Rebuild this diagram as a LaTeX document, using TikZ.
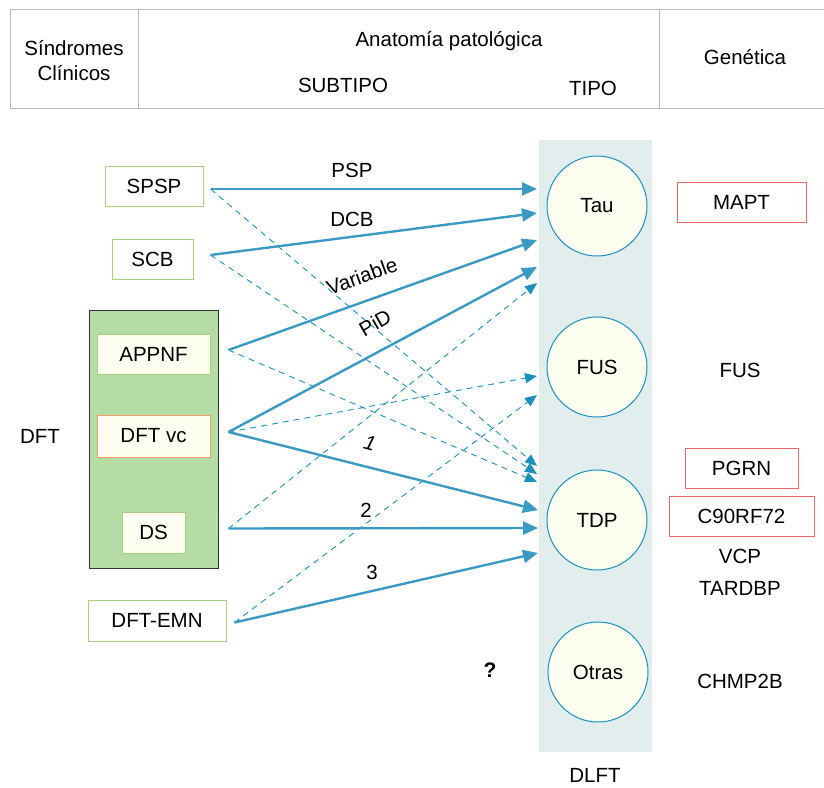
\documentclass[tikz,border=0pt]{standalone}
\usepackage{fontspec}
\setmainfont{Liberation Sans}
\usetikzlibrary{arrows.meta,calc}
\definecolor{gridgray}{HTML}{B8B8B8}
\definecolor{colbg}{HTML}{E2EEEE}
\definecolor{ivory}{HTML}{FDFDF0}
\definecolor{ringblue}{HTML}{1A90C0}
\definecolor{solidblue}{HTML}{3A9AC4}
\definecolor{leafgreen}{HTML}{A8D080}
\definecolor{groupgreen}{HTML}{B6DCA6}
\definecolor{genered}{HTML}{F06868}
\definecolor{vcorange}{HTML}{F0A060}
\tikzset{
  txt/.style={font=\fontsize{20.5}{25}\selectfont, inner sep=0pt},
  clinbox/.style={draw=leafgreen, line width=1pt, fill=white, minimum height=40pt, txt},
  innerbox/.style={draw=leafgreen, line width=1pt, fill=ivory, minimum height=40pt, txt},
  genebox/.style={draw=genered, line width=1pt, fill=white, minimum height=40pt, txt},
  typecircle/.style={circle, draw=ringblue, line width=1pt, fill=ivory, minimum size=100pt, txt},
  strong/.style={draw=solidblue, line width=2.4pt, -{Triangle[length=15pt,width=13pt]}},
  weak/.style={draw=ringblue, line width=0.9pt, dash pattern=on 6pt off 5pt, -{Triangle[length=12pt,width=10pt]}},
  lbl/.style={txt, fill=none}
}
\begin{document}
\begin{tikzpicture}[x=1pt,y=-1pt]
\useasboundingbox (0,0) rectangle (824,787);

% header table
\draw[gridgray, line width=1pt] (824,9) -- (10,9) -- (10,108) -- (824,108);
\draw[gridgray, line width=1pt] (138,9) -- (138,108);
\draw[gridgray, line width=1pt] (659,9) -- (659,108);
\node[txt, align=center] (hSind) at (74,61) {Síndromes\\Clínicos};
\node[txt] (hAnat) at (449,41) {Anatomía patológica};
\node[txt] (hSub) at (343,85) {SUBTIPO};
\node[txt] (hTipo) at (593,88) {TIPO};
\node[txt] (hGen) at (745,57) {Genética};

% pathology column
\fill[colbg] (539,140) rectangle (652,752);
\node[txt] (dlft) at (595,775) {DLFT};

% pathology types
\node[typecircle] (tau) at (597,206) {Tau};
\node[typecircle] (fus) at (597,367) {FUS};
\node[typecircle] (tdp) at (597,520) {TDP};
\node[typecircle] (otras) at (598,672) {Otras};

% genes
\node[genebox, minimum width=129pt] (mapt) at (741.5,202) {MAPT};
\node[txt] (gfus) at (740,370) {FUS};
\node[genebox, minimum width=113pt] (pgrn) at (741.5,468) {PGRN};
\node[genebox, minimum width=145pt] (c9) at (741.5,516) {C90RF72};
\node[txt] (vcp) at (740,556) {VCP};
\node[txt] (tardbp) at (740,588) {TARDBP};
\node[txt] (chmp) at (740,681) {CHMP2B};
\node[font=\fontsize{21}{24}\selectfont\bfseries, inner sep=0pt] (unk) at (490,670) {?};

% clinical syndromes
\node[txt] (dft) at (40,436) {DFT};
\draw[black!80, line width=1pt, fill=groupgreen] (89,310) rectangle (218,568);
\node[clinbox, minimum width=98pt] (spsp) at (154,186) {SPSP};
\node[clinbox, minimum width=81pt] (scb) at (152.5,259) {SCB};
\node[innerbox, minimum width=113pt] (appnf) at (153.5,354) {APPNF};
\node[innerbox, draw=vcorange, minimum width=113pt, minimum height=42pt] (dftvc) at (153.5,436) {DFT vc};
\node[innerbox, minimum width=63pt, minimum height=41pt] (ds) at (153.5,532.5) {DS};
\node[clinbox, minimum width=138pt, minimum height=41pt] (emn) at (157,620.5) {DFT-EMN};

% connector start points
\coordinate (sSpsp) at ($(spsp.east)+(7,3)$);
\coordinate (sScb) at ($(scb.east)+(17,-4)$);
\coordinate (sAppnf) at ($(appnf.east)+(18,-4)$);
\coordinate (sVc) at ($(dftvc.east)+(18,-4)$);
\coordinate (sDs) at ($(ds.east)+(43,-4)$);
\coordinate (sEmn) at ($(emn.east)+(8,2)$);

% connector end points, left of the circles
\coordinate (eTau1) at (537,189);
\coordinate (eTau2) at (537,213);
\coordinate (eTau3) at (537,240);
\coordinate (eTau4) at (537,267);
\coordinate (eTau5) at (537,283);
\coordinate (eFus1) at (537,376);
\coordinate (eFus2) at (537,395);
\coordinate (eTdpA) at (537,466);
\coordinate (eTdpB) at (537,474);
\coordinate (eTdpC) at (537,482);
\coordinate (eTdp1) at (538,510);
\coordinate (eTdp2) at (538,528);
\coordinate (eTdp3) at (538,553);

% uncertain links
\draw[weak] (sSpsp) -- (eTdpA);
\draw[weak] (sScb) -- (eTdpB);
\draw[weak] (sAppnf) -- (eTdpC);
\draw[weak] (sVc) -- (eFus1);
\draw[weak] (sDs) -- (eTau5);
\draw[weak] (sEmn) -- (eFus2);

% main links
\draw[strong] (sSpsp) -- (eTau1);
\draw[strong] (sScb) -- (eTau2);
\draw[strong] (sAppnf) -- (eTau3);
\draw[strong] (sVc) -- (eTau4);
\draw[strong] (sVc) -- (eTdp1);
\draw[strong] (sDs) -- (eTdp2);
\draw[strong] (sEmn) -- (eTdp3);

% link labels
\node[lbl] (lPsp) at (352,170) {PSP};
\node[lbl] (lDcb) at (352,219) {DCB};
\node[lbl, rotate=20] (lVar) at (362,276) {Variable};
\node[lbl, rotate=30] (lPid) at (375,323) {PiD};
\node[lbl, rotate=-15] (l1) at (370,443) {\itshape 1};
\node[lbl] (l2) at (366,510) {2};
\node[lbl] (l3) at (372,572) {3};
\end{tikzpicture}
\end{document}
